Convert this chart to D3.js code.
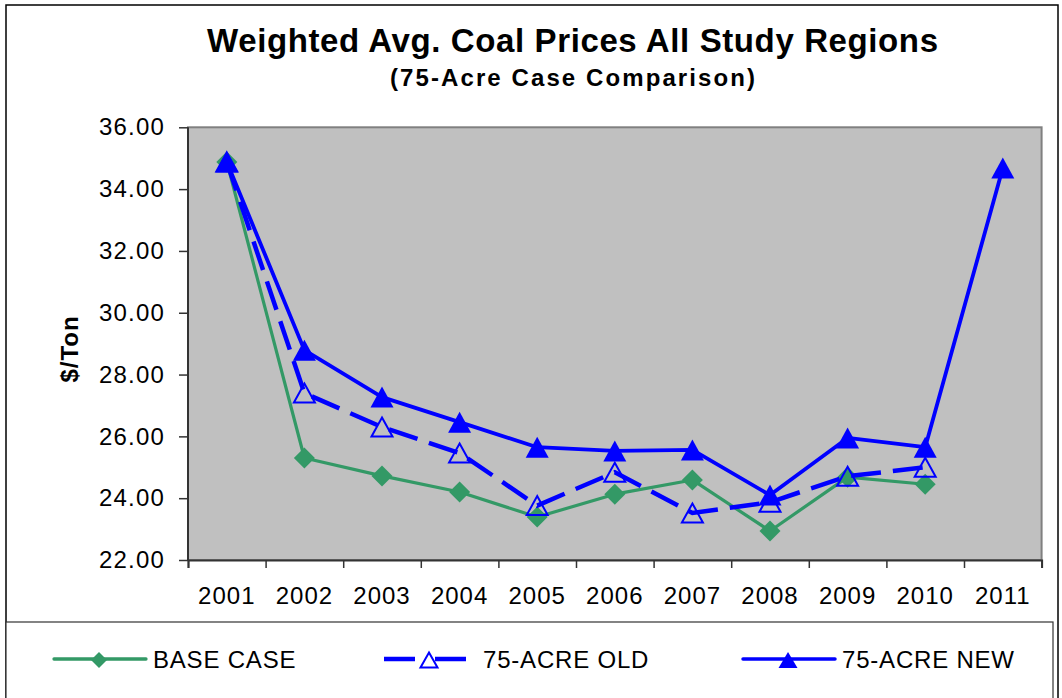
<!DOCTYPE html>
<html>
<head>
<meta charset="utf-8">
<script src="https://cdn.jsdelivr.net/npm/d3@7"></script>
<style>
  html, body { margin: 0; padding: 0; background: #fff; }
  svg { display: block; font-family: Arial, "Liberation Sans", sans-serif; }
</style>
</head>
<body>
<div id="chart"></div>
<script>
// values
const years = ['2001', '2002', '2003', '2004', '2005', '2006', '2007', '2008', '2009', '2010', '2011'];
const baseCase = [34.88, 25.30, 24.72, 24.20, 23.39, 24.13, 24.59, 22.94, 24.68, 24.45, null];
const acreOld = [34.88, 27.40, 26.30, 25.46, 23.76, 24.84, 23.52, 23.87, 24.71, 25.00, null];
const acreNew = [34.88, 28.79, 27.27, 26.46, 25.65, 25.53, 25.56, 24.10, 25.95, 25.65, 34.68];
const yTicks = [22, 24, 26, 28, 30, 32, 34, 36];
const seriesNames = ['BASE CASE', '75-ACRE OLD', '75-ACRE NEW'];

const width = 1062, height = 698;
const plot = { left: 188, right: 1041.6, top: 127.3, bottom: 560 };

const svg = d3.select('#chart').append('svg')
  .attr('width', width).attr('height', height);

// outer frame + legend box
svg.append('rect').attr('x', 6).attr('y', 5).attr('width', 1052).attr('height', 720)
  .attr('fill', 'none').attr('stroke', '#000').attr('stroke-width', 1.5);
svg.append('rect').attr('x', 6).attr('y', 622).attr('width', 1047).attr('height', 100)
  .attr('fill', '#fff').attr('stroke', '#333').attr('stroke-width', 1.2);

// titles
svg.append('text').attr('x', 572.5).attr('y', 52).attr('text-anchor', 'middle')
  .attr('font-size', 33).attr('font-weight', 'bold')
  .attr('textLength', 731).attr('lengthAdjust', 'spacing')
  .text('Weighted Avg. Coal Prices All Study Regions');
svg.append('text').attr('x', 572.5).attr('y', 86).attr('text-anchor', 'middle')
  .attr('font-size', 24).attr('font-weight', 'bold')
  .attr('textLength', 365).attr('lengthAdjust', 'spacing')
  .text('(75-Acre Case Comparison)');

const x = d3.scaleBand().domain(years).range([plot.left, plot.right]).padding(0);
const xEdge = d3.scaleLinear().domain([0, years.length]).range([plot.left, plot.right]);
const y = d3.scaleLinear().domain([22, 36]).range([plot.bottom, plot.top]);
const cx = d => x(d) + x.bandwidth() / 2;

// plot area
svg.append('rect')
  .attr('x', plot.left).attr('y', plot.top)
  .attr('width', plot.right - plot.left).attr('height', plot.bottom - plot.top)
  .attr('fill', '#c0c0c0').attr('stroke', '#808080').attr('stroke-width', 2);

// y axis
const yAxis = svg.append('g').attr('transform', `translate(${plot.left},0)`)
  .call(d3.axisLeft(y).tickValues(yTicks).tickFormat(d3.format('.2f')).tickSize(9).tickPadding(14));
yAxis.selectAll('text').attr('font-size', 24).attr('letter-spacing', 1.2)
  .attr('font-family', 'Arial, "Liberation Sans", sans-serif').attr('fill', '#000');

// x axis: ticks on band edges, labels in band centers
const xTickAxis = svg.append('g').attr('transform', `translate(0,${plot.bottom})`)
  .call(d3.axisBottom(xEdge).tickValues(d3.range(years.length + 1)).tickFormat('').tickSize(8));
const xLabAxis = svg.append('g').attr('transform', `translate(0,${plot.bottom})`)
  .call(d3.axisBottom(x).tickSize(0).tickPadding(27));
xLabAxis.select('.domain').remove();
xLabAxis.selectAll('text').attr('font-size', 24).attr('letter-spacing', 1)
  .attr('font-family', 'Arial, "Liberation Sans", sans-serif').attr('fill', '#000');

[yAxis, xTickAxis].forEach(g => {
  g.select('.domain').attr('stroke', '#333').attr('stroke-width', 2);
  g.selectAll('.tick line').attr('stroke', '#333').attr('stroke-width', 1.5);
});
yAxis.select('.domain').attr('d', `M0,${plot.top}V${plot.bottom}`);

// y title
svg.append('text').attr('transform', 'translate(78,349) rotate(-90)')
  .attr('text-anchor', 'middle').attr('font-size', 24).attr('font-weight', 'bold')
  .attr('letter-spacing', 1).text('$/Ton');

const green = '#339966', blue = '#0000ff';

const lineGen = d3.line()
  .defined(d => d.v != null)
  .x(d => cx(d.year)).y(d => y(d.v));

const toPts = vals => years.map((yr, i) => ({ year: yr, v: vals[i] })).filter(d => d.v != null);

const diamond = r => `M0,${-r}L${r},0L0,${r}L${-r},0Z`;
const triangle = (w, h) => `M0,${-h / 2}L${w / 2},${h / 2}L${-w / 2},${h / 2}Z`;

// base case
svg.append('path').datum(years.map((yr, i) => ({ year: yr, v: baseCase[i] })))
  .attr('d', lineGen).attr('fill', 'none').attr('stroke', green).attr('stroke-width', 3.2)
  .attr('stroke-linejoin', 'round');
svg.selectAll('.m-base').data(toPts(baseCase)).enter().append('path')
  .attr('transform', d => `translate(${cx(d.year)},${y(d.v)})`)
  .attr('d', diamond(10.5)).attr('fill', green);

// 75-acre old (dashed, open triangles)
svg.append('path').datum(years.map((yr, i) => ({ year: yr, v: acreOld[i] })))
  .attr('d', lineGen).attr('fill', 'none').attr('stroke', blue).attr('stroke-width', 4.5)
  .attr('stroke-dasharray', '30,12');
svg.selectAll('.m-old').data(toPts(acreOld)).enter().append('path')
  .attr('transform', d => `translate(${cx(d.year)},${y(d.v)})`)
  .attr('d', triangle(21, 19)).attr('fill', 'none').attr('stroke', blue).attr('stroke-width', 2);

// 75-acre new (solid, filled triangles)
svg.append('path').datum(years.map((yr, i) => ({ year: yr, v: acreNew[i] })))
  .attr('d', lineGen).attr('fill', 'none').attr('stroke', blue).attr('stroke-width', 3.8)
  .attr('stroke-linejoin', 'round');
svg.selectAll('.m-new').data(toPts(acreNew)).enter().append('path')
  .attr('transform', d => `translate(${cx(d.year)},${y(d.v)})`)
  .attr('d', triangle(23, 21)).attr('fill', blue);

// legend
const legY = 659;
const legItems = [
  { name: seriesNames[0], x0: 54, color: green, width: 3.3, dash: null, marker: diamond(8), fill: green, stroke: 'none', textX: 153 },
  { name: seriesNames[1], x0: 384, color: blue, width: 4.3, dash: '31,20', marker: triangle(17, 15), fill: '#fff', stroke: blue, textX: 483 },
  { name: seriesNames[2], x0: 743, color: blue, width: 3.5, dash: null, marker: triangle(19, 16), fill: blue, stroke: 'none', textX: 842 }
];
const leg = svg.selectAll('.legend').data(legItems).enter().append('g');
leg.append('line')
  .attr('x1', d => d.x0).attr('x2', d => d.x0 + 92)
  .attr('y1', legY).attr('y2', legY)
  .attr('stroke', d => d.color).attr('stroke-width', d => d.width)
  .attr('stroke-dasharray', d => d.dash)
  .attr('stroke-linecap', d => d.dash ? 'butt' : 'round');
leg.append('path')
  .attr('transform', d => `translate(${d.x0 + 45},${legY + 1})`)
  .attr('d', d => d.marker).attr('fill', d => d.fill)
  .attr('stroke', d => d.stroke).attr('stroke-width', 2);
leg.append('text')
  .attr('x', d => d.textX).attr('y', legY + 8.5)
  .attr('font-size', 24).attr('letter-spacing', 0.8)
  .text(d => d.name);
</script>
</body>
</html>
